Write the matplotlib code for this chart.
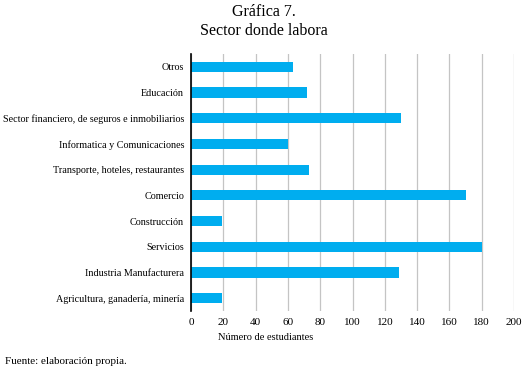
import matplotlib.pyplot as plt

sectores = ['Agricultura, ganadería, minería', 'Industria Manufacturera', 'Servicios',
            'Construcción', 'Comercio', 'Transporte, hoteles, restaurantes',
            'Informatica y Comunicaciones', 'Sector financiero, de seguros e inmobiliarios',
            'Educación', 'Otros']
estudiantes = [19, 129, 180, 19, 170, 73, 60, 130, 72, 63]
ticks_x = list(range(0, 201, 20))

plt.rcParams['font.family'] = ['Liberation Serif', 'DejaVu Serif']

fig = plt.figure(figsize=(5.27, 3.72), dpi=100)
ax = fig.add_axes([191/527, 1-311/372, 323/527, 257/372])

ax.barh(range(len(sectores)), estudiantes, height=0.4, color='#00adef', zorder=3)
ax.set_yticks(range(len(sectores)))
ax.set_yticklabels(sectores, fontsize=7.3)
ax.set_xticks(ticks_x)
ax.set_xticklabels([str(t) for t in ticks_x], fontsize=8)
ax.set_xlim(0, 200)
ax.set_ylim(-0.5, 9.5)
ax.tick_params(length=0, pad=5)
ax.grid(axis='x', color='#c4c4c4', lw=0.9, zorder=0)
for s in ['top', 'right', 'bottom']:
    ax.spines[s].set_visible(False)
ax.spines['left'].set_color('black')
ax.spines['left'].set_linewidth(1.2)
ax.spines['left'].set_zorder(4)

fig.text(0.5, 1-12/372, 'Gráfica 7.', ha='center', va='center', fontsize=11.5)
fig.text(0.5, 1-31/372, 'Sector donde labora', ha='center', va='center', fontsize=11.5)
fig.text(266/527, 1-338/372, 'Número de estudiantes', ha='center', va='center', fontsize=7.5)
fig.text(5/527, 1-362/372, 'Fuente: elaboración propia.', ha='left', va='center', fontsize=8)

fig.savefig('out.png', dpi=100)
